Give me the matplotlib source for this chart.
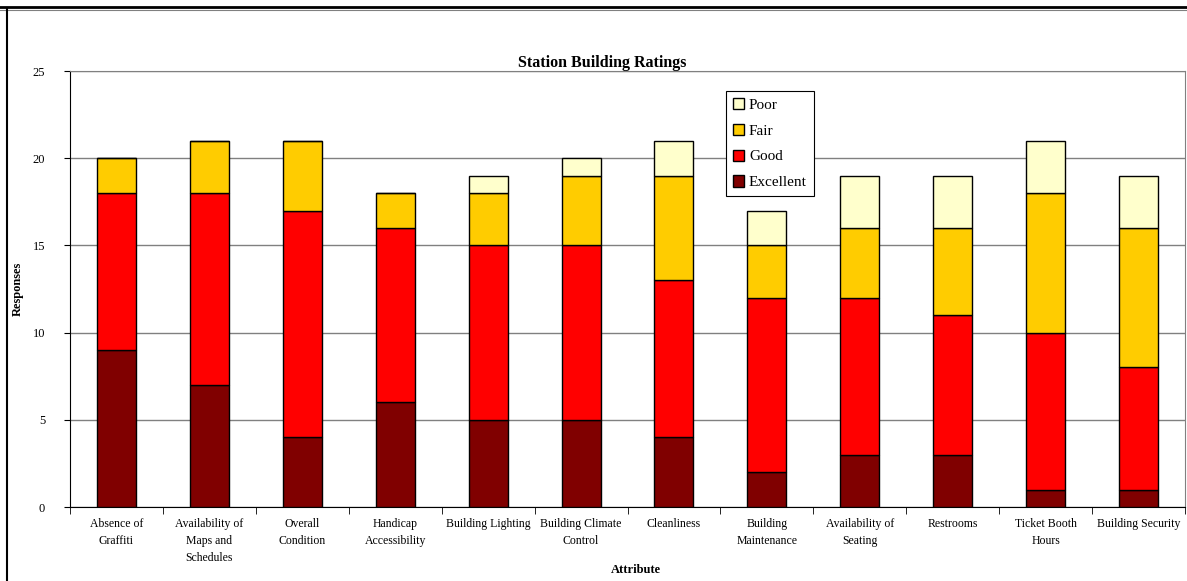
import matplotlib.pyplot as plt
import numpy as np
from matplotlib.lines import Line2D

# Station building ratings - stacked responses per attribute
attributes = ["Absence of\nGraffiti", "Availability of\nMaps and\nSchedules",
              "Overall\nCondition", "Handicap\nAccessibility", "Building Lighting",
              "Building Climate\nControl", "Cleanliness", "Building\nMaintenance",
              "Availability of\nSeating", "Restrooms", "Ticket Booth\nHours",
              "Building Security"]
excellent = [9, 7, 4, 6, 5, 5, 4, 2, 3, 3, 1, 1]
good = [9, 11, 13, 10, 10, 10, 9, 10, 9, 8, 9, 7]
fair = [2, 3, 4, 2, 3, 4, 6, 3, 4, 5, 8, 8]
poor = [0, 0, 0, 0, 1, 1, 2, 2, 3, 3, 3, 3]

colors = {'Excellent': '#800000', 'Good': '#FF0000', 'Fair': '#FFCC00', 'Poor': '#FFFFCC'}

plt.rcParams['font.family'] = ['Liberation Serif', 'DejaVu Serif']

fig = plt.figure(figsize=(11.87, 5.81), dpi=100)
ax = fig.add_axes([70 / 1187, 1 - 507 / 581, 1115 / 1187, 436 / 581])

x = np.arange(len(attributes))
w = 0.42
bottom = np.zeros(len(attributes))
handles = {}
for name, vals in [('Excellent', excellent), ('Good', good), ('Fair', fair), ('Poor', poor)]:
    vals = np.array(vals)
    bars = ax.bar(x, vals, w, bottom=bottom, color=colors[name], edgecolor='black',
                  linewidth=1, zorder=3, label=name)
    handles[name] = bars
    bottom += vals

ax.set_xlim(-0.5, len(attributes) - 0.5)
ax.set_ylim(0, 25)
ax.set_yticks([0, 5, 10, 15, 20, 25])
ax.yaxis.grid(True, color='#808080', linewidth=1, zorder=0)
ax.set_axisbelow(True)

ax.set_xticks(x)
ax.set_xticklabels(attributes, fontsize=8.5, linespacing=1.55)
ax.set_xticks(np.arange(-0.5, len(attributes)), minor=True)
ax.tick_params(axis='x', which='major', length=0, pad=8)
ax.tick_params(axis='x', which='minor', length=5, direction='out', color='black')
ax.tick_params(axis='y', length=4, direction='out', labelsize=9, color='black', pad=14)

for s in ['top', 'right']:
    ax.spines[s].set_color('#808080')
ax.spines['left'].set_color('black')
ax.spines['bottom'].set_color('black')

fig.text(18 / 1187, 1 - 289 / 581, 'Responses', fontsize=9, fontweight='bold',
         rotation=90, ha='center', va='center')
fig.text(636 / 1187, 1 - 570 / 581, 'Attribute', fontsize=9, fontweight='bold',
         ha='center', va='center')

fig.text(602 / 1187, 1 - 63 / 581, 'Station Building Ratings', fontsize=11.5,
         fontweight='bold', ha='center', va='center')

order = ['Poor', 'Fair', 'Good', 'Excellent']
leg = ax.legend([handles[k] for k in order], order, loc='upper left',
                bbox_to_anchor=((726 - 70) / 1115, (507 - 91) / 436),
                fontsize=11, frameon=True, fancybox=False, framealpha=1,
                edgecolor='black', handlelength=0.75, handleheight=0.75,
                handletextpad=0.3, borderpad=0.45, labelspacing=0.78,
                borderaxespad=0)
leg.get_frame().set_linewidth(0.8)

# page border lines
fig.add_artist(Line2D([0, 1], [1 - 7 / 581, 1 - 7 / 581], color='black', lw=2))
fig.add_artist(Line2D([0, 1], [1 - 9.5 / 581, 1 - 9.5 / 581], color='#808080', lw=0.8))
fig.add_artist(Line2D([7 / 1187, 7 / 1187], [0, 1 - 8 / 581], color='black', lw=1.5))

fig.savefig('out.png', dpi=100)
